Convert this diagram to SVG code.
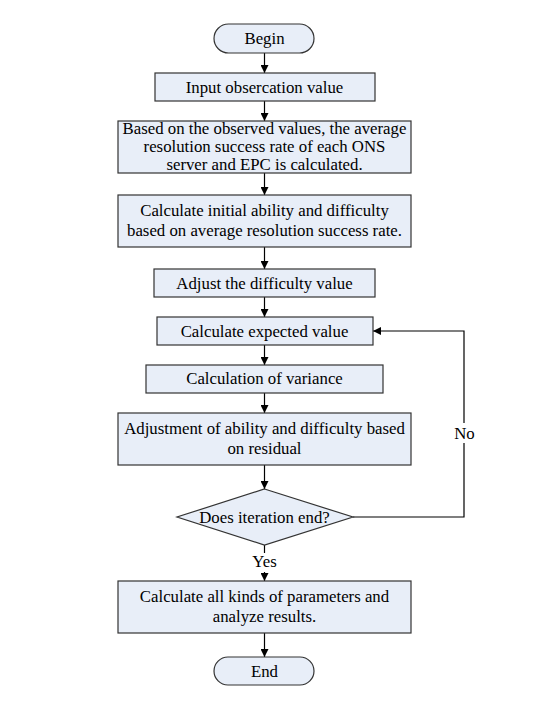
<svg xmlns="http://www.w3.org/2000/svg" width="540" height="702" viewBox="0 0 540 702">
<style>
.box{fill:#E8EEF8;stroke:#333;stroke-width:1.2}
.t{font-family:"Liberation Serif","Times New Roman",serif;font-size:16.8px;fill:#000;text-anchor:middle}
.c{fill:none;stroke:#000;stroke-width:1.2}
</style>
<defs>
<marker id="ah" viewBox="0 0 10 10" refX="10" refY="5" markerWidth="8" markerHeight="8" markerUnits="userSpaceOnUse" orient="auto">
<path d="M0,0 L10,5 L0,10 Z" fill="#000"/>
</marker>
</defs>
<rect width="540" height="702" fill="#fff"/>
<g id="connectors">
<line class="c" x1="264.5" y1="53" x2="264.5" y2="73" marker-end="url(#ah)"/>
<line class="c" x1="264.5" y1="101" x2="264.5" y2="121" marker-end="url(#ah)"/>
<line class="c" x1="264.5" y1="173" x2="264.5" y2="195" marker-end="url(#ah)"/>
<line class="c" x1="264.5" y1="247" x2="264.5" y2="269" marker-end="url(#ah)"/>
<line class="c" x1="264.5" y1="297" x2="264.5" y2="317" marker-end="url(#ah)"/>
<line class="c" x1="264.5" y1="345" x2="264.5" y2="365" marker-end="url(#ah)"/>
<line class="c" x1="264.5" y1="393" x2="264.5" y2="413" marker-end="url(#ah)"/>
<line class="c" x1="264.5" y1="465" x2="264.5" y2="489" marker-end="url(#ah)"/>
<line class="c" x1="264.5" y1="545" x2="264.5" y2="553"/>
<line class="c" x1="264.5" y1="572" x2="264.5" y2="581" marker-end="url(#ah)"/>
<line class="c" x1="264.5" y1="633" x2="264.5" y2="657" marker-end="url(#ah)"/>
<polyline class="c" points="353,517 464,517 464,331 373,331" marker-end="url(#ah)"/>
<rect x="451" y="423" width="27" height="20" fill="#fff"/>
<text class="t" x="464.5" y="439">No</text>
<text class="t" x="264.5" y="567">Yes</text>
</g>
<g id="begin">
<rect class="box" x="214" y="24" width="100" height="29" rx="14.5"/>
<text class="t" x="264.5" y="44">Begin</text>
</g>
<g id="input">
<rect class="box" x="155" y="73" width="220" height="28"/>
<text class="t" x="264.5" y="92.5">Input obsercation value</text>
</g>
<g id="average">
<rect class="box" x="118" y="121" width="293" height="52"/>
<text class="t" x="264.5" y="133.5">Based on the observed values, the average</text>
<text class="t" x="264.5" y="151.5">resolution success rate of each ONS</text>
<text class="t" x="264.5" y="169.5">server and EPC is calculated.</text>
</g>
<g id="initial">
<rect class="box" x="118" y="195" width="293" height="52"/>
<text class="t" x="264.5" y="216">Calculate initial ability and difficulty</text>
<text class="t" x="264.5" y="235.5">based on average resolution success rate.</text>
</g>
<g id="adjust">
<rect class="box" x="154" y="269" width="221" height="28"/>
<text class="t" x="264.5" y="288.5">Adjust the difficulty value</text>
</g>
<g id="expected">
<rect class="box" x="157" y="317" width="216" height="28"/>
<text class="t" x="264.5" y="336.5">Calculate expected value</text>
</g>
<g id="variance">
<rect class="box" x="146" y="365" width="237" height="28"/>
<text class="t" x="264.5" y="384">Calculation of variance</text>
</g>
<g id="residual">
<rect class="box" x="118" y="413" width="293" height="52"/>
<text class="t" x="264.5" y="434">Adjustment of ability and difficulty based</text>
<text class="t" x="264.5" y="453.5">on residual</text>
</g>
<g id="decision">
<polygon class="box" points="264.5,489 353,517 264.5,545 177,517"/>
<text class="t" x="264.5" y="522.5">Does iteration end?</text>
</g>
<g id="results">
<rect class="box" x="118" y="581" width="293" height="52"/>
<text class="t" x="264.5" y="602">Calculate all kinds of parameters and</text>
<text class="t" x="264.5" y="622">analyze results.</text>
</g>
<g id="end">
<rect class="box" x="214" y="657" width="100" height="28" rx="14"/>
<text class="t" x="264.5" y="676.5">End</text>
</g>
</svg>
